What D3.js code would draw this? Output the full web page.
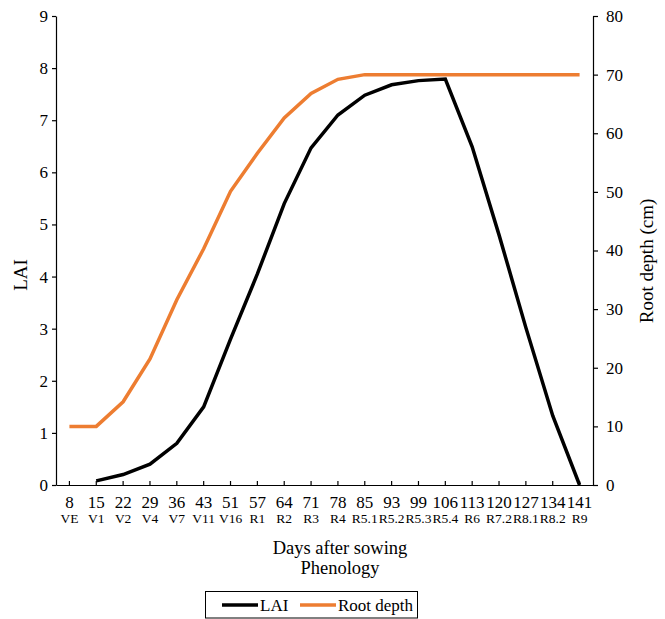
<!DOCTYPE html>
<html lang="en">
<head>
<meta charset="utf-8">
<title>LAI and Root depth</title>
<script src="https://d3js.org/d3.v7.min.js"></script>
<style>
  body { margin: 0; background: #fff; }
  svg text { font-family: "Liberation Serif", "Times New Roman", serif; fill: #000; }
  .tick text { font-size: 17px; }
  .domain, .tick line { stroke: #000; stroke-width: 1.2; }
</style>
</head>
<body>
<div id="vis"></div>
<script>
const days = ["8", "15", "22", "29", "36", "43", "51", "57", "64", "71", "78", "85", "93", "99", "106", "113", "120", "127", "134", "141"];
const phenology = ["VE", "V1", "V2", "V4", "V7", "V11", "V16", "R1", "R2", "R3", "R4", "R5.1", "R5.2", "R5.3", "R5.4", "R6", "R7.2", "R8.1", "R8.2", "R9"];
const lai = [null, 0.08, 0.2, 0.4, 0.8, 1.5, 2.8, 4.05, 5.4, 6.47, 7.1, 7.48, 7.68, 7.76, 7.79, 6.49, 4.8, 3.02, 1.33, 0];
const rootDepth = [10, 10, 14.2, 21.5, 31.6, 40.3, 50.1, 56.6, 62.6, 66.8, 69.2, 70, 70, 70, 70, 70, 70, 70, 70, 70];
const laiTicks = [0, 1, 2, 3, 4, 5, 6, 7, 8, 9];
const rootTicks = [0, 10, 20, 30, 40, 50, 60, 70, 80];

const width = 665, height = 619;
const plotLeft = 56, plotRight = 593, plotTop = 16, plotBottom = 485;

const svg = d3.select("#vis").append("svg")
  .attr("width", width)
  .attr("height", height);

const x = d3.scaleBand().domain(d3.range(days.length)).range([plotLeft, plotRight]);
const yL = d3.scaleLinear().domain([0, 9]).range([plotBottom, plotTop]);
const yR = d3.scaleLinear().domain([0, 80]).range([plotBottom, plotTop]);
const cx = i => x(i) + x.bandwidth() / 2;

// x axis, ticks inward
svg.append("g")
  .attr("transform", "translate(0," + plotBottom + ")")
  .call(d3.axisBottom(x).tickSize(-4).tickSizeOuter(0).tickFormat(""));

svg.selectAll(".daylab").data(days).enter().append("text")
  .attr("x", (d, i) => cx(i)).attr("y", 508)
  .attr("text-anchor", "middle").style("font-size", "17px")
  .text(d => d);
svg.selectAll(".phlab").data(phenology).enter().append("text")
  .attr("x", (d, i) => cx(i)).attr("y", 523)
  .attr("text-anchor", "middle").style("font-size", "13.5px")
  .text(d => d);

svg.append("g")
  .attr("transform", "translate(" + plotLeft + ",0)")
  .call(d3.axisLeft(yL).tickValues(laiTicks).tickSize(4).tickSizeOuter(0).tickPadding(4));

svg.append("g")
  .attr("transform", "translate(" + plotRight + ",0)")
  .call(d3.axisRight(yR).tickValues(rootTicks).tickSize(5).tickSizeOuter(0).tickPadding(8));

const lineL = d3.line().defined(d => d != null).x((d, i) => cx(i)).y(d => yL(d));
const lineR = d3.line().x((d, i) => cx(i)).y(d => yR(d));

svg.append("path").datum(rootDepth)
  .attr("d", lineR).attr("fill", "none")
  .attr("stroke", "#ed7d31").attr("stroke-width", 3.5);
svg.append("path").datum(lai)
  .attr("d", lineL).attr("fill", "none")
  .attr("stroke", "#000").attr("stroke-width", 3.5);

// titles
svg.append("text")
  .attr("transform", "translate(27,275) rotate(-90)")
  .attr("text-anchor", "middle").style("font-size", "19px")
  .text("LAI");
svg.append("text")
  .attr("transform", "translate(653,261) rotate(-90)")
  .attr("text-anchor", "middle").style("font-size", "19px")
  .text("Root depth (cm)");
svg.append("text")
  .attr("x", 340).attr("y", 554)
  .attr("text-anchor", "middle").style("font-size", "18.5px")
  .text("Days after sowing");
svg.append("text")
  .attr("x", 340).attr("y", 574)
  .attr("text-anchor", "middle").style("font-size", "18.5px")
  .text("Phenology");

// legend
const legend = svg.append("g");
legend.append("rect")
  .attr("x", 205.5).attr("y", 591.5).attr("width", 212).attr("height", 26.5)
  .attr("fill", "#fff").attr("stroke", "#000").attr("stroke-width", 1);
const items = [{ name: "LAI", color: "#000", x: 222 }, { name: "Root depth", color: "#ed7d31", x: 300 }];
items.forEach(it => {
  legend.append("line")
    .attr("x1", it.x).attr("x2", it.x + 36).attr("y1", 605).attr("y2", 605)
    .attr("stroke", it.color).attr("stroke-width", 3.5);
  legend.append("text")
    .attr("x", it.x + 38).attr("y", 611)
    .style("font-size", "17px")
    .text(it.name);
});
</script>
</body>
</html>
